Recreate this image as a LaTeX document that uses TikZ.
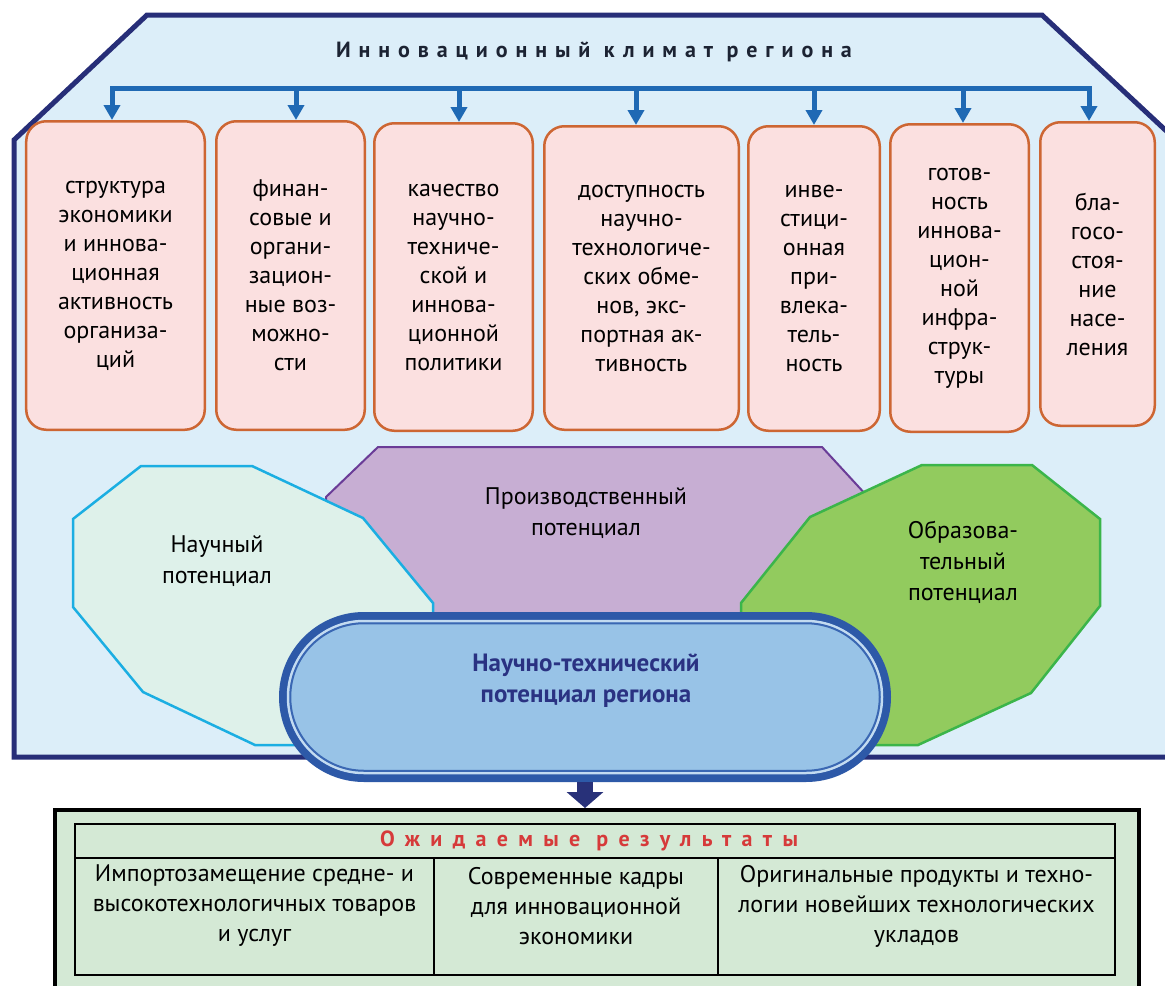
\documentclass[tikz,border=0pt]{standalone}
\usepackage{fontspec}
\setmainfont{PT Sans}
\newfontfamily\spacedA[LetterSpace=36]{PT Sans}
\newfontfamily\spacedB[LetterSpace=47]{PT Sans}
\usetikzlibrary{arrows.meta}
\definecolor{outerfill}{HTML}{DCEEF9}
\definecolor{navy}{HTML}{272E78}
\definecolor{arrblue}{HTML}{1F69B4}
\definecolor{boxfill}{HTML}{FBE0E0}
\definecolor{boxline}{HTML}{CD6633}
\definecolor{purfill}{HTML}{C7AED3}
\definecolor{purline}{HTML}{6A3C97}
\definecolor{mintfill}{HTML}{DEF1EA}
\definecolor{mintline}{HTML}{1BAEE2}
\definecolor{grnfill}{HTML}{92CB5E}
\definecolor{grnline}{HTML}{3BB54A}
\definecolor{ovalband}{HTML}{2D59A8}
\definecolor{ovallight}{HTML}{C3DBF1}
\definecolor{ovalthin}{HTML}{3A67B3}
\definecolor{ovalfill}{HTML}{98C3E7}
\definecolor{ovaltext}{HTML}{2A3282}
\definecolor{resfill}{HTML}{D4E9D5}
\definecolor{resred}{HTML}{D63A3A}
\definecolor{titlecol}{HTML}{1C2333}
\definecolor{downarr}{HTML}{283179}
\tikzset{
  boxnode/.style={draw=boxline, fill=boxfill, line width=2.5bp, rounded corners=20bp,
    align=center, inner sep=0pt, font=\fontsize{24bp}{29bp}\selectfont},
  pottext/.style={align=center, inner sep=0pt, font=\fontsize{24bp}{31bp}\selectfont},
  celltext/.style={align=center, inner sep=0pt, font=\fontsize{24bp}{30bp}\selectfont},
  barline/.style={draw=arrblue, line width=5bp},
  droparrow/.style={draw=arrblue, line width=5bp, -{Triangle[width=16bp,length=15bp]}},
}
\begin{document}
\begin{tikzpicture}[x=1bp,y=-1bp]
\useasboundingbox (0,0) rectangle (1165,986);
% outer region
\draw[line width=5bp, draw=navy, fill=outerfill, line join=miter]
  (147,15) -- (1042,15) -- (1176,140) -- (1176,757) -- (14,757) -- (14,140) -- cycle;
% title
\node[font=\spacedA\bfseries\fontsize{22bp}{26bp}\selectfont, text=titlecol, inner sep=0pt] (title) at (594,52) {Инновационный климат региона};
% boxes
\node[boxnode, minimum width=178.5bp, minimum height=308.5bp] (b1) at (115.5,275.5) {структура\\экономики\\и иннова-\\ционная\\активность\\организа-\\ций};
\node[boxnode, minimum width=148.5bp, minimum height=308.5bp] (b2) at (290.5,275.5) {финан-\\совые и\\органи-\\зацион-\\ные воз-\\можно-\\сти};
\node[boxnode, minimum width=158.5bp, minimum height=307.5bp] (b3) at (453.5,277) {качество\\научно-\\техниче-\\ской и\\иннова-\\ционной\\политики};
\node[boxnode, minimum width=194.5bp, minimum height=303.5bp] (b4) at (641.5,278) {доступность\\научно-\\технологиче-\\ских обме-\\нов, экс-\\портная ак-\\тивность};
\node[boxnode, minimum width=131.5bp, minimum height=304.5bp] (b5) at (814,278.5) {инве-\\стици-\\онная\\при-\\влека-\\тель-\\ность};
\node[boxnode, minimum width=138.5bp, minimum height=307.5bp] (b6) at (959.5,278) {готов-\\ность\\иннова-\\цион-\\ной\\инфра-\\струк-\\туры};
\node[boxnode, minimum width=114.5bp, minimum height=303.5bp] (b7) at (1097.5,274) {бла-\\госо-\\стоя-\\ние\\насе-\\ления};
% arrows from bar
\coordinate (a1) at (112,88);
\coordinate (a2) at (296,88);
\coordinate (a3) at (459,88);
\coordinate (a4) at (636,88);
\coordinate (a5) at (814,88);
\coordinate (a6) at (963,88);
\coordinate (a7) at (1089,88);
\draw[barline, line cap=rect] (a1) -- (a7);
\foreach \i in {1,...,7} { \draw[droparrow] (a\i) -- (a\i |- b\i.north); }
% production potential
\draw[draw=purline, fill=purfill, line width=2bp]
  (378,447) -- (822,447) -- (868,497) -- (868,660) -- (326,660) -- (326,497) -- cycle;
% scientific potential
\draw[draw=mintline, fill=mintfill, line width=2.5bp]
  (141,466) -- (252,466) -- (363,518) -- (433,603) -- (433,700) -- (385,745) -- (255,745) -- (143,692) -- (73,607) -- (73,519) -- cycle;
% educational potential
\draw[draw=grnline, fill=grnfill, line width=2.5bp]
  (922,465) -- (1032,465) -- (1100,519) -- (1100,606) -- (1031,693) -- (918,745) -- (800,745) -- (741,700) -- (741,603) -- (810,517) -- cycle;
\node[pottext] (nauch) at (217,561) {Научный\\потенциал};
\node[pottext] (proizv) at (586,513) {Производственный\\потенциал};
\node[pottext] (obraz) at (963,562) {Образова-\\тельный\\потенциал};
% oval
\draw[line width=8bp, draw=ovalband, fill=ovalfill, rounded corners=81bp]
  (283,616) rectangle (887,778);
\draw[line width=2.5bp, draw=ovallight, rounded corners=76bp]
  (288,621) rectangle (882,773);
\draw[line width=2bp, draw=ovalthin, rounded corners=73.75bp]
  (290.25,623.25) rectangle (879.75,770.75);
\node[minimum width=612bp, minimum height=170bp, inner sep=0pt, outer sep=0pt] (oval) at (585,697) {};
\node[align=center, inner sep=0pt, text=ovaltext, font=\bfseries\fontsize{25bp}{31bp}\selectfont] (ovaltxt) at (586,681) {Научно-технический\\потенциал региона};
% results
\node[draw=black, line width=4bp, fill=resfill, minimum width=1084bp, minimum height=200bp, inner sep=0pt] (results) at (597,910) {};
\draw[line width=16bp, draw=downarr, -{Triangle[width=36bp,length=16bp]}] (oval.south) -- (oval.south |- results.north);
\draw[line width=2.5bp] (75,824) rectangle (1115,975);
\draw[line width=2.5bp] (75,858) -- (1115,858);
\draw[line width=2.5bp] (434,858) -- (434,975);
\draw[line width=2.5bp] (718,858) -- (718,975);
\node[font=\spacedB\bfseries\fontsize{22bp}{26bp}\selectfont, text=resred, inner sep=0pt] (header) at (589,841) {Ожидаемые результаты};
\node[celltext] (c1) at (254.5,906) {Импортозамещение средне- и\\высокотехнологичных товаров\\и услуг};
\node[celltext] (c2) at (576,906) {Современные кадры\\для инновационной\\экономики};
\node[celltext] (c3) at (916.5,906) {Оригинальные продукты и техно-\\логии новейших технологических\\укладов};
\end{tikzpicture}
\end{document}
